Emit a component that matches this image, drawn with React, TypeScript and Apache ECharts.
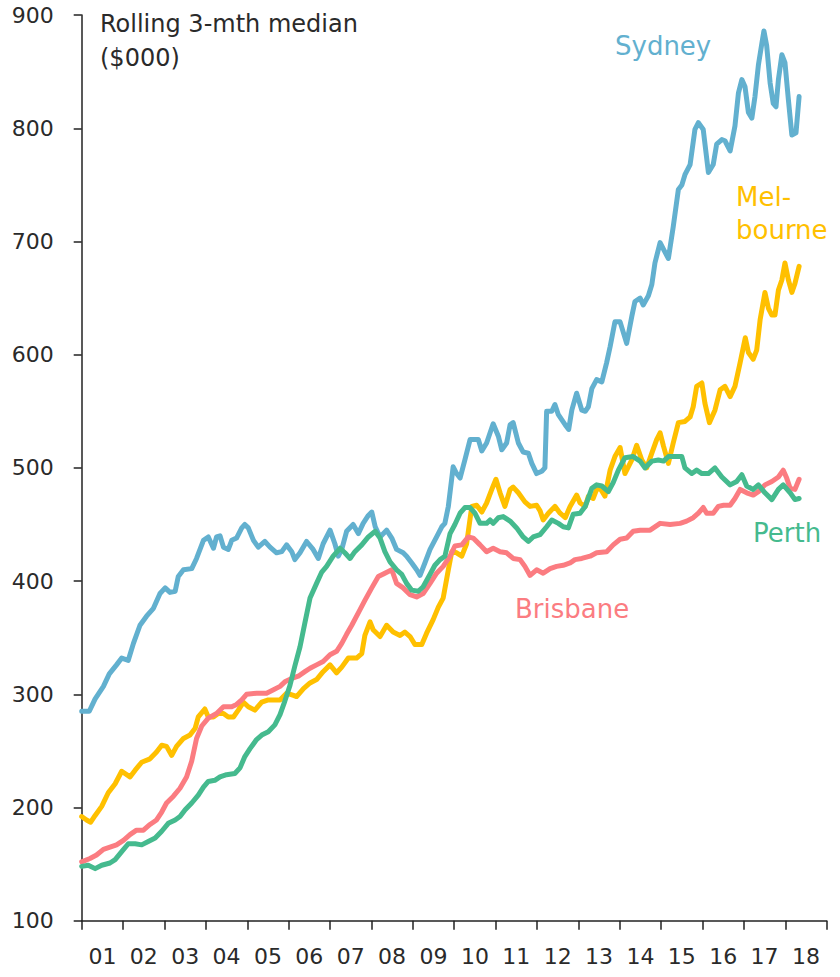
import React, { useEffect, useRef } from "react";
import * as echarts from "echarts";

// x = months since Jan 2001, y = rolling 3-month median ($000)
const yearLabels = ["01","02","03","04","05","06","07","08","09","10","11","12","13","14","15","16","17","18"];

const sydney: [number, number][] = [
  [0,285],[2.2,285],[3.9,296],[6.3,307],[8,318],[10.1,326],[11.6,332],[13.5,330],[15,345],[16.9,361],[18.8,369],[20.8,376],[22.7,389],[24.2,394],[25.6,390],[27.1,391],[28,404],[29.5,410],[31.9,411],[33.3,420],[35.3,436],[36.7,439],[38.2,429],[39.1,439],[40.1,440],[41.1,430],[42.5,428],[43.5,436],[44.9,438],[46.4,447],[47.3,450],[48.3,447],[49.8,436],[51.2,430],[53.1,435],[54.6,430],[56.5,425],[58,426],[59.4,432],[60.9,426],[61.8,419],[63.3,425],[65.2,435],[67.1,428],[68.6,420],[70,433],[72,445],[73.4,433],[74.4,422],[75.4,428],[76.8,444],[78.7,450],[80.2,442],[81.6,451],[83.1,458],[84.1,461],[85.1,448],[86.5,439],[88.4,445],[89.9,438],[91.3,428],[93.2,425],[94.2,422],[95.7,416],[97.1,410],[98.1,405],[99.5,416],[101,428],[102.9,439],[104.4,448],[105.3,451],[106.3,466],[107.7,501],[108.7,495],[109.7,491],[111.1,507],[112.6,525],[115,525],[116,515],[117.4,522],[119.3,539],[120.8,528],[121.8,516],[123.2,522],[124.2,538],[125.1,540],[126.6,522],[128,514],[129.5,513],[130.5,504],[131.9,495],[133.4,497],[134.3,500],[134.8,550],[136.3,550],[137.2,556],[138.2,547],[140.2,538],[141.2,534],[142.1,551],[143.5,566],[145,551],[146,550],[146.9,554],[147.9,570],[149.3,578],[150.8,576],[152.2,593],[153.2,607],[154.6,629],[156.1,629],[158,610],[159.5,634],[160.4,647],[161.9,650],[162.8,644],[164.3,652],[165.3,662],[166.2,681],[167.7,699],[168.7,693],[170.1,685],[171.5,713],[173,746],[174,750],[174.9,759],[176.4,768],[177.8,799],[178.8,805],[180.2,799],[181.7,761],[183.1,768],[184.1,786],[185.6,790],[186.5,789],[188,780],[189.4,802],[190.4,831],[191.4,843],[192.3,837],[193.3,814],[194.3,809],[195.2,828],[196.2,856],[197.2,875],[197.8,886],[198.6,873],[199.6,840],[200.5,822],[201.3,819],[202,843],[203,865],[203.9,858],[204.9,825],[205.9,794],[207.1,796],[208,828]
];

const melbourne: [number, number][] = [
  [0,192],[1.4,189],[2.6,187],[3.9,193],[5.8,201],[7.7,213],[9.7,221],[11.6,232],[14,227],[15.5,233],[17.4,240],[19.8,243],[21.7,249],[23.2,255],[24.6,254],[26.1,246],[27.5,254],[29.5,261],[31.4,264],[32.9,270],[33.8,280],[35.7,287],[36.7,280],[38.2,280],[39.6,283],[41.1,283],[42.5,280],[44,280],[45.4,286],[46.9,293],[48.3,289],[50.2,286],[52.2,293],[54.1,295],[57.5,295],[59.4,301],[61.4,299],[62.3,298],[64.3,305],[66.2,310],[68.1,313],[70,320],[72,326],[73.9,319],[75.4,324],[77.3,332],[79.7,332],[81.2,336],[82.1,352],[83.6,364],[84.5,357],[86.5,351],[88.4,361],[90.3,355],[92.3,352],[93.7,355],[95.2,351],[96.6,344],[98.6,344],[100,354],[101.9,366],[103.4,377],[104.8,385],[106.3,410],[107.3,426],[108.7,425],[110.2,422],[111.6,433],[113.1,466],[114.5,467],[116,461],[117.4,469],[118.9,481],[120.1,490],[121.3,478],[122.7,466],[124.2,481],[125.1,483],[126.6,478],[128.5,470],[130,466],[131.9,467],[132.9,462],[133.8,454],[135.3,460],[137.2,466],[138.7,460],[140.2,456],[141.6,466],[143.5,476],[144.5,469],[146,466],[146.9,475],[148.3,473],[149.3,481],[150.3,482],[151.7,475],[153.2,498],[154.6,510],[156.1,518],[157.5,495],[159.5,507],[160.9,520],[162.4,507],[163.8,500],[165.3,513],[166.7,525],[167.7,531],[168.7,519],[170.1,504],[171.5,522],[173,540],[174.9,541],[176.4,545],[177.3,554],[178.3,572],[179.8,575],[180.7,557],[182,540],[183.6,551],[185.1,569],[186.5,572],[188,563],[189.4,572],[190.9,593],[192.4,615],[193.3,602],[194.7,596],[195.7,604],[196.7,631],[198.1,655],[199.1,641],[200.1,635],[201,635],[202,657],[203,666],[203.9,681],[204.9,666],[205.9,655],[206.8,663],[208,678]
];

const brisbane: [number, number][] = [
  [0,152],[2.4,155],[4.3,158],[6.3,163],[8.2,165],[10.1,167],[12.1,171],[14,176],[15.9,180],[17.9,180],[19.8,185],[21.7,189],[23.2,196],[24.6,204],[26.6,210],[28.5,217],[30.4,227],[31.9,241],[33.3,261],[34.8,272],[36.7,279],[39.1,283],[41.1,289],[43.5,289],[44.9,291],[46.4,295],[47.8,300],[50.7,301],[53.6,301],[55.6,304],[57.5,307],[58.9,311],[60.9,314],[62.8,316],[64.7,320],[66.2,323],[68.1,326],[70,329],[72,335],[73.9,338],[75.4,345],[76.8,353],[78.3,361],[80.2,372],[82.1,383],[84.1,394],[86,404],[87.9,407],[89.9,410],[91.3,398],[93.2,394],[95.2,388],[97.1,386],[99,389],[101,398],[102.9,407],[104.8,413],[106.8,422],[108.2,431],[110.2,432],[112.1,439],[113.5,438],[115.5,432],[117.4,426],[119.3,429],[121.3,426],[123.2,425],[125.1,420],[127.1,419],[128.5,413],[130,405],[131.9,410],[133.8,407],[135.8,411],[137.7,413],[139.6,414],[141.6,416],[143,419],[145,420],[147.4,422],[149.3,425],[152.2,426],[154.1,432],[156.1,437],[158,438],[159.9,444],[161.9,445],[164.8,445],[167.7,451],[170.6,450],[173.5,451],[175.4,453],[177.3,456],[178.8,460],[180.2,465],[181.2,460],[183.1,460],[184.6,466],[186.1,467],[188,467],[189.4,473],[190.9,481],[192.8,478],[194.7,476],[196.2,479],[198.1,485],[200.1,488],[202,492],[203.4,498],[204.4,491],[205.4,482],[206.8,481],[208,490]
];

const perth: [number, number][] = [
  [0,148],[1.9,149],[3.9,146],[5.8,149],[8.2,151],[9.7,154],[11.6,161],[13.5,168],[15.5,168],[17.4,167],[19.3,170],[21.3,173],[23.2,179],[25.1,186],[27.1,189],[28.5,192],[30,198],[31.9,204],[33.8,211],[35.3,218],[36.7,223],[38.6,224],[40.1,227],[42,229],[44.4,230],[45.9,235],[47.3,245],[48.8,252],[50.7,260],[52.2,264],[54.1,267],[56,273],[57.5,282],[58.9,294],[60.4,308],[61.8,325],[63.3,342],[64.7,363],[66.2,385],[68.1,398],[69.6,408],[71,413],[72.9,422],[74.9,429],[76.3,425],[77.8,420],[79.2,426],[81.2,432],[83.1,439],[85.1,444],[86.5,438],[87.9,426],[89.4,417],[91.3,410],[92.8,406],[94.2,398],[95.7,392],[97.6,391],[99,395],[101,406],[102.4,414],[103.9,419],[105.3,422],[106.8,442],[108.2,450],[109.7,460],[111.1,465],[112.6,465],[114,460],[115.5,451],[117.4,451],[118.4,454],[119.3,451],[120.8,456],[122.2,457],[124.2,453],[126.1,447],[128,439],[129.5,435],[130.9,439],[132.9,441],[134.8,448],[136.3,454],[138.2,451],[139.6,448],[141.1,447],[142.5,459],[144.5,460],[146,466],[147.9,482],[149.3,485],[150.8,484],[152.7,479],[154.1,487],[155.6,498],[157.5,509],[159.9,510],[161.9,506],[163.3,500],[165.3,506],[167.2,507],[168.7,506],[170.1,510],[174,510],[174.9,500],[176.9,495],[178.3,498],[179.8,495],[181.7,495],[183.6,500],[185.6,492],[188,485],[189.9,488],[191.4,494],[192.8,484],[194.7,481],[196.2,485],[198.1,478],[200.1,472],[202,481],[203.4,485],[205.4,478],[206.8,472],[208,473]
];

const FONT = "'DejaVu Sans', sans-serif";
const AXIS = "#222222";
const TXT = "#2a2a2a";

export default function App() {
  const ref = useRef<HTMLDivElement>(null);
  useEffect(() => {
    if (!ref.current) return;
    const chart = echarts.init(ref.current, undefined, { renderer: "svg" });
    const mk = (name: string, data: [number, number][], color: string) => ({
      name,
      type: "line",
      data,
      xAxisIndex: 0,
      showSymbol: false,
      symbol: "none",
      lineStyle: { color, width: 5, join: "round", cap: "round" },
      itemStyle: { color },
    });
    chart.setOption({
      animation: false,
      backgroundColor: "#ffffff",
      grid: { left: 81.7, right: 13.3, top: 15.1, bottom: 56.3, containLabel: false },
      xAxis: [
        {
          type: "value",
          min: 0,
          max: 216,
          interval: 12,
          axisLine: { show: true, lineStyle: { color: AXIS, width: 1.5 } },
          axisTick: { show: true, inside: false, length: 9, lineStyle: { color: AXIS, width: 1.5 } },
          axisLabel: { show: false },
          splitLine: { show: false },
        },
        {
          type: "category",
          data: yearLabels,
          boundaryGap: true,
          position: "bottom",
          axisLine: { show: false },
          axisTick: { show: false },
          axisLabel: { show: true, interval: 0, margin: 25, fontSize: 22, fontFamily: FONT, color: TXT },
          splitLine: { show: false },
        },
      ],
      yAxis: {
        type: "value",
        min: 100,
        max: 900,
        interval: 100,
        axisLine: { show: true, lineStyle: { color: AXIS, width: 1.5 } },
        axisTick: { show: true, inside: false, length: 8, lineStyle: { color: AXIS, width: 1.5 } },
        axisLabel: { margin: 28, fontSize: 22, fontFamily: FONT, color: TXT },
        splitLine: { show: false },
      },
      series: [
        mk("Sydney", sydney, "#62B0CF"),
        mk("Melbourne", melbourne, "#FFC000"),
        mk("Brisbane", brisbane, "#FB7C81"),
        mk("Perth", perth, "#45BA8E"),
      ],
      graphic: [
        { type: "text", x: 100, y: 24, style: { text: "Rolling 3-mth median", font: `24px ${FONT}`, fill: TXT, textVerticalAlign: "middle" } },
        { type: "text", x: 100, y: 58, style: { text: "($000)", font: `24px ${FONT}`, fill: TXT, textVerticalAlign: "middle" } },
        { type: "text", x: 615, y: 46, style: { text: "Sydney", font: `26px ${FONT}`, fill: "#62B0CF", textVerticalAlign: "middle" } },
        { type: "text", x: 736, y: 197, style: { text: "Mel-", font: `26px ${FONT}`, fill: "#FFC000", textVerticalAlign: "middle" } },
        { type: "text", x: 736, y: 230, style: { text: "bourne", font: `26px ${FONT}`, fill: "#FFC000", textVerticalAlign: "middle" } },
        { type: "text", x: 753, y: 533, style: { text: "Perth", font: `26px ${FONT}`, fill: "#45BA8E", textVerticalAlign: "middle" } },
        { type: "text", x: 515, y: 609, style: { text: "Brisbane", font: `26px ${FONT}`, fill: "#FB7C81", textVerticalAlign: "middle" } },
      ],
    });
    return () => chart.dispose();
  }, []);
  return <div ref={ref} style={{ position: "fixed", left: 0, top: 0, width: 840, height: 977 }} />;
}
